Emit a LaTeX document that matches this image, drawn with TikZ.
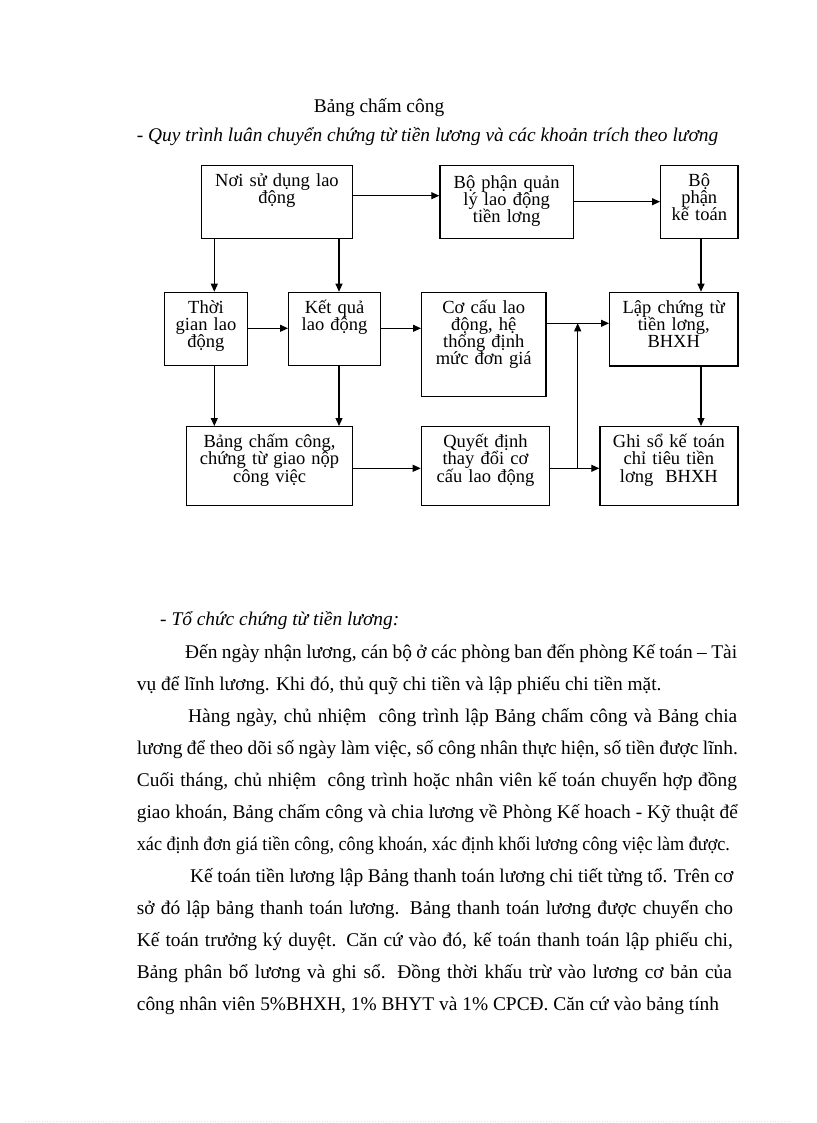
\documentclass[tikz,border=0pt]{standalone}
\usepackage{graphicx}
\usepackage{fontspec}
\setmainfont{Liberation Serif}
\usetikzlibrary{arrows.meta}
\newcommand\myboxfont{\fontsize{18.5}{17.2}\selectfont\lineskiplimit=-30pt\relax}
\newcommand\mybodyfont{\fontsize{19.4}{23}\selectfont}
\begin{document}
\begin{tikzpicture}[x=1pt,y=-1pt,
  box/.style={draw, line width=1.2pt, inner sep=0pt, align=center, font=\myboxfont, anchor=north west, text height=21pt},
  arr/.style={line width=1.1pt, -{Triangle[length=8pt,width=7pt]}},
  bodytext/.style={inner sep=0pt, font=\mybodyfont, anchor=base west},
  itext/.style={inner sep=0pt, font=\mybodyfont\itshape, anchor=base west}]
\useasboundingbox[fill=white] (0,0) rectangle (816,1123);

% headings
\node[inner sep=0pt, font=\mybodyfont, anchor=base] (title) at (379,113) {Bảng chấm công};
\node[itext] (sub) at (136.7,141.7) {- Quy trình luân chuyển chứng từ tiền lương và các khoản trích theo lương};

% boxes
\node[box, text width=151.3pt, text depth=51.7pt] (A) at (200.7,165) {Nơi sử dụng lao\\động};
\node[box, text width=133.4pt, text height=22.5pt, text depth=50.2pt, font={\fontsize{18.5}{17}\selectfont\lineskiplimit=-30pt\relax}] (B) at (439.3,165) {Bộ phận quản\\lý lao động\\tiền lơng};
\node[box, text width=77.3pt, text depth=51.7pt] (C) at (660,165) {Bộ\\phận\\kế toán};
\node[box, text width=82.7pt, text depth=52.3pt] (D) at (164,291.7) {Thời\\gian lao\\động};
\node[box, text width=92pt, text depth=52.3pt] (E) at (288,291.7) {Kết quả\\lao động};
\node[box, text width=124.3pt, text depth=83pt] (F) at (421,291.7) {Cơ cấu lao\\động, hệ\\thống định\\mức đơn giá};
\node[box, text width=128.3pt, text depth=52.6pt] (G) at (609,291.7) {Lập chứng từ\\tiền lơng,\\BHXH};
\node[box, text width=166pt, text depth=58pt] (H) at (186,426) {Bảng chấm công,\\chứng từ giao nộp\\công việc};
\node[box, text width=128.3pt, text depth=58pt] (I) at (420.7,426) {Quyết định\\thay đổi cơ\\cấu lao động};
\node[box, text width=138pt, text depth=58pt] (J) at (599.3,426) {Ghi sổ kế toán\\chỉ tiêu tiền\\lơng\hspace*{12pt}BHXH};

% connectors
\draw[arr] (A.east |- 0,195.7) -- (B.west |- 0,195.7);
\draw[arr] (B.east |- 0,201.7) -- (C.west |- 0,201.7);
\draw[arr] (A.south -| 214.3,0) -- (D.north -| 214.3,0);
\draw[arr] (A.south -| 339,0) -- (E.north -| 339,0);
\draw[arr] (C.south -| 701,0) -- (G.north -| 701,0);
\draw[arr] (D.east |- 0,328.3) -- (E.west |- 0,328.3);
\draw[arr] (E.east |- 0,328.3) -- (F.west |- 0,328.3);
\draw[arr] (F.east |- 0,323.3) -- (G.west |- 0,323.3);
\draw[arr] (D.south -| 214.3,0) -- (H.north -| 214.3,0);
\draw[arr] (E.south -| 339,0) -- (H.north -| 339,0);
\draw[arr] (G.south -| 701,0) -- (J.north -| 701,0);
\draw[arr] (H.east |- 0,468.3) -- (I.west |- 0,468.3);
\draw[arr] (I.east |- 0,468.3) -- (J.west |- 0,468.3);
\coordinate (jb) at (577.7,468.3);
\coordinate (jt) at (577.7,323.3);
\draw[arr] (jb) -- (jt);

% body text
\node[itext] (t0) at (160,625) {- Tổ chức chứng từ tiền lương:};
\node[bodytext] (l1) at (185,658) {\makebox[552pt][s]{Đến ngày nhận lương, cán bộ ở các phòng ban đến phòng Kế toán – Tài}};
\node[bodytext] (l2) at (136.7,690.5) {vụ để lĩnh lương. Khi đó, thủ quỹ chi tiền và lập phiếu chi tiền mặt.};
\node[bodytext] (l3) at (188,722.5) {\makebox[549pt][s]{Hàng ngày, chủ nhiệm \ công trình lập Bảng chấm công và Bảng chia}};
\node[bodytext] (l4) at (136.7,754.5) {\makebox[601pt][s]{lương để theo dõi số ngày làm việc, số công nhân thực hiện, số tiền được lĩnh.}};
\node[bodytext] (l5) at (136.7,786.5) {\makebox[600pt][s]{Cuối tháng, chủ nhiệm \ công trình hoặc nhân viên kế toán chuyển hợp đồng}};
\node[bodytext] (l6) at (136.7,818.5) {\makebox[601pt][s]{giao khoán, Bảng chấm công và chia lương về Phòng Kế hoach - Kỹ thuật để}};
\node[bodytext] (l7) at (136.7,850.5) {\resizebox{593pt}{\height}{xác định đơn giá tiền công, công khoán, xác định khối lương công việc làm được.}};
\node[bodytext] (l8) at (190,882.5) {\makebox[543pt][s]{Kế toán tiền lương lập Bảng thanh toán lương chi tiết từng tổ. Trên cơ}};
\node[bodytext] (l9) at (136.7,914.5) {\makebox[596pt][s]{sở đó lập bảng thanh toán lương. Bảng thanh toán lương được chuyển cho}};
\node[bodytext] (l10) at (136.7,946.5) {\makebox[596pt][s]{Kế toán trưởng ký duyệt. Căn cứ vào đó, kế toán thanh toán lập phiếu chi,}};
\node[bodytext] (l11) at (136.7,978.5) {\makebox[595pt][s]{Bảng phân bổ lương và ghi sổ. Đồng thời khấu trừ vào lương cơ bản của}};
\node[bodytext] (l12) at (136.7,1010.5) {công nhân viên 5\%BHXH, 1\% BHYT và 1\% CPCĐ. Căn cứ vào bảng tính};

% faint page marker
\draw[pink!60, dotted, line width=0.8pt] (25,1121) -- (790,1121);
\end{tikzpicture}
\end{document}
